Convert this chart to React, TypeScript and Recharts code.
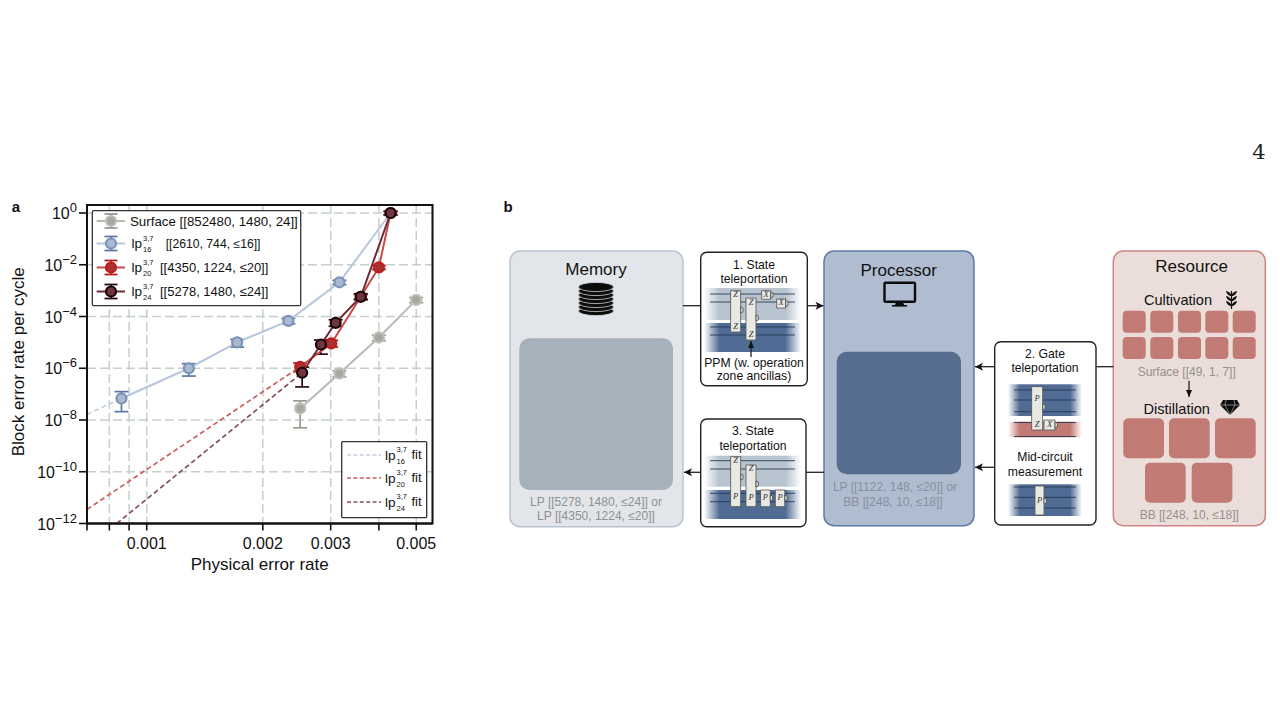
import React from "react";
import {
  CartesianGrid,
  ErrorBar,
  Scatter,
  ScatterChart,
  XAxis,
  YAxis,
} from "recharts";

const FONT = "'Liberation Sans', Arial, sans-serif";

// values
const surfaceX = [0.0025, 0.00316, 0.004, 0.005];
const surfaceY = [2.8e-8, 6.3e-7, 1.55e-5, 4.4e-4];
const surfaceLow = [5e-9, 4.6e-7, 1.15e-5, 3.4e-4];
const surfaceHigh = [5.5e-8, 8e-7, 1.9e-5, 5.4e-4];

const lp16X = [0.00086, 0.001286, 0.001716, 0.00233, 0.00316, 0.00429];
const lp16Y = [6.8e-8, 1e-6, 1e-5, 6.8e-5, 2.1e-3, 1];
const lp16Low = [2.1e-8, 5e-7, 6.6e-6, 5.2e-5, 1.7e-3, 0.85];
const lp16High = [1.25e-7, 1.5e-6, 1.3e-5, 8.4e-5, 2.5e-3, 1.15];

const lp20X = [0.0025, 0.00301, 0.00359, 0.004, 0.00429];
const lp20Y = [1.14e-6, 9.1e-6, 5.8e-4, 7.9e-3, 1];
const lp20Low = [7.3e-7, 6.6e-6, 4.8e-4, 6.6e-3, 0.85];
const lp20High = [1.6e-6, 1.2e-5, 7e-4, 9.4e-3, 1.15];

const lp24X = [0.00253, 0.00283, 0.00309, 0.00359, 0.00429];
const lp24Y = [6.7e-7, 8.3e-6, 5.7e-5, 5.8e-4, 1];
const lp24Low = [1.9e-7, 3.5e-6, 4.2e-5, 4.4e-4, 0.85];
const lp24High = [1.1e-6, 1.23e-5, 7.5e-5, 7.6e-4, 1.15];

const lp16FitX = [0.0007, 0.00086];
const lp16FitY = [1.65e-8, 6.8e-8];
const lp20FitX = [0.0007, 0.0025];
const lp20FitY = [3.5e-12, 1.14e-6];
const lp24FitX = [0.000836, 0.00253];
const lp24FitY = [1e-12, 6.7e-7];

const xTicks = [0.0007, 0.0008, 0.0009, 0.001, 0.002, 0.003, 0.004, 0.005];
const xLabels = [0.001, 0.002, 0.003, 0.005];
const yTicks = [1, 1e-2, 1e-4, 1e-6, 1e-8, 1e-10, 1e-12];

const points = (xs: number[], ys: number[], lows: number[], highs: number[]) =>
  xs.map((x, i) => ({ x, y: ys[i], err: [ys[i] - lows[i], highs[i] - ys[i]] }));

const fitPoints = (xs: number[], ys: number[]) =>
  xs.map((x, i) => ({ x, y: ys[i] }));

const surfaceColors = { line: "#b9b9b2", fill: "#a8a8a2", ring: "#bfbfb8", err: "#9b9b90" };
const lp16Colors = { line: "#b7c6da", fill: "#a9b9cf", ring: "#7a93b8", err: "#5b77a3" };
const lp20Colors = { line: "#c9494a", fill: "#a83232", ring: "#c01c1c", err: "#b51b1b" };
const lp24Colors = { line: "#6d2a36", fill: "#70363f", ring: "#1a0508", err: "#2a0a10" };

const fit16 = "#c3cfe0";
const fit20 = "#c95f5f";
const fit24 = "#84505c";

const marker = (fill: string, ring: string) => (props: any) =>
  <circle cx={props.cx} cy={props.cy} r={5} fill={fill} stroke={ring} strokeWidth={2.2} />;

const noMarker = () => <g />;

const XTick = (props: any) => {
  const v = props.payload.value;
  if (!xLabels.includes(v)) return <g />;
  return (
    <text x={props.x} y={props.y + 16} textAnchor="middle" fontSize={16} fontFamily={FONT} fill="#111">
      {String(v)}
    </text>
  );
};

const YTick = (props: any) => {
  const exp = Math.round(Math.log10(props.payload.value));
  const label = exp === 0 ? "0" : "\u2212" + Math.abs(exp);
  return (
    <text x={props.x} y={props.y + 6} textAnchor="end" fontSize={16} fontFamily={FONT} fill="#111">
      10
      <tspan dy={-7} fontSize={13}>{label}</tspan>
    </text>
  );
};

const T = ({ x, y, size = 12.2, color = "#111", anchor = "middle", children, ...rest }: any) => (
  <text x={x} y={y + size * 0.08} fontSize={size} fill={color} textAnchor={anchor} dominantBaseline="middle" fontFamily={FONT} {...rest}>
    {children}
  </text>
);

const LpName = ({ x, y, sub, size = 13.5 }: any) => (
  <g>
    <T x={x} y={y} size={size} anchor="start">lp</T>
    <T x={x + 11.5} y={y - 5.5} size={7.5} anchor="start">3,7</T>
    <T x={x + 11.5} y={y + 6} size={7.5} anchor="start">{sub}</T>
  </g>
);

const legendRows = [
  { y: 221, colors: surfaceColors, text: "Surface [[852480, 1480, 24]]", sub: "", tx: 130, ts: 13.3 },
  { y: 243.5, colors: lp16Colors, text: "[[2610, 744, \u226416]]", sub: "16", tx: 165.7, ts: 12.2 },
  { y: 267.5, colors: lp20Colors, text: "[[4350, 1224, \u226420]]", sub: "20", tx: 160, ts: 13 },
  { y: 291.5, colors: lp24Colors, text: "[[5278, 1480, \u226424]]", sub: "24", tx: 160, ts: 13 },
];

const fitRows = [
  { y: 455, color: fit16, sub: "16" },
  { y: 478, color: fit20, sub: "20" },
  { y: 502, color: fit24, sub: "24" },
];

const Arrow = ({ x1, y1, x2, y2, head = true }: any) => (
  <g>
    <line x1={x1} y1={y1} x2={x2} y2={y2} stroke="#222" strokeWidth={1.3} />
    {head && (
      <polygon
        points={
          x2 > x1
            ? `${x2},${y2} ${x2 - 8},${y2 - 4} ${x2 - 6},${y2} ${x2 - 8},${y2 + 4}`
            : x2 < x1
            ? `${x2},${y2} ${x2 + 8},${y2 - 4} ${x2 + 6},${y2} ${x2 + 8},${y2 + 4}`
            : y2 > y1
            ? `${x2},${y2} ${x2 - 3},${y2 - 7} ${x2 + 3},${y2 - 7}`
            : `${x2},${y2} ${x2 - 3},${y2 + 7} ${x2 + 3},${y2 + 7}`
        }
        fill="#111"
      />
    )}
  </g>
);

const Band = ({ x0, x1, y0, y1, id, lines = [] }: any) => (
  <g>
    <rect x={x0} y={y0} width={x1 - x0} height={y1 - y0} fill={`url(#${id})`} />
    {lines.map((ly: number) => (
      <line key={ly} x1={x0 + 6} x2={x1 - 6} y1={ly} y2={ly} stroke="#23344f" strokeWidth={1} opacity={0.85} />
    ))}
  </g>
);

const Gate = ({ x, y, w, h, labels = [], meterY }: any) => (
  <g>
    <rect x={x} y={y} width={w} height={h} fill="#e9e9e4" stroke="#555" strokeWidth={0.8} />
    {labels.map((l: any, i: number) => (
      <text key={i} x={x + w / 2} y={l.y} fontSize={8.5} textAnchor="middle" dominantBaseline="middle" fontFamily="'Liberation Serif', serif" fontStyle="italic" fill="#333">
        {l.t}
      </text>
    ))}
    {meterY !== undefined && (
      <path d={`M${x + w} ${meterY - 3} a2.6 3 0 0 1 0 6 z`} fill="#ddd" stroke="#444" strokeWidth={0.8} />
    )}
  </g>
);

const smallCols = [1122.7, 1150.3, 1178, 1205.3, 1232.7];
const smallRows = [310.7, 337];
const largeCells = [
  [1123.3, 418.3],
  [1169, 418.3],
  [1215, 418.3],
  [1145, 462.7],
  [1191.7, 462.7],
];

const Overlay = () => (
  <svg width={1280} height={720} style={{ position: "absolute", left: 0, top: 0, pointerEvents: "none" }}>
    <defs>
      {[
        ["lightBand", "#b7c3cf"],
        ["darkBand", "#506c95"],
        ["redBand", "#c27a74"],
      ].map(([id, c]) => (
        <linearGradient key={id} id={id} x1="0" x2="1" y1="0" y2="0">
          <stop offset="0" stopColor={c} stopOpacity={0} />
          <stop offset="0.16" stopColor={c} />
          <stop offset="0.84" stopColor={c} />
          <stop offset="1" stopColor={c} stopOpacity={0} />
        </linearGradient>
      ))}
    </defs>

    <text x={1259} y={159} fontSize={21} textAnchor="middle" fontFamily="'DejaVu Serif', 'Liberation Serif', serif" fill="#222">4</text>
    <T x={16} y={207} size={15} anchor="middle" fontWeight="bold">a</T>
    <T x={508} y={207} size={15} anchor="middle" fontWeight="bold">b</T>

    {/* panel a frame and legends */}
    <rect x={87} y={205} width={345.5} height={318.5} fill="none" stroke="#111" strokeWidth={2} />

    <rect x={92.3} y={210.7} width={208.4} height={95} rx={1.5} fill="#fff" stroke="#333" strokeWidth={1.3} />
    {legendRows.map((r) => (
      <g key={r.y}>
        <line x1={96.7} x2={125} y1={r.y} y2={r.y} stroke={r.colors.line} strokeWidth={2} />
        <line x1={111} x2={111} y1={r.y - 7} y2={r.y + 7} stroke={r.colors.err} strokeWidth={1.6} />
        <line x1={104.5} x2={117.5} y1={r.y - 7} y2={r.y - 7} stroke={r.colors.err} strokeWidth={1.8} />
        <line x1={104.5} x2={117.5} y1={r.y + 7} y2={r.y + 7} stroke={r.colors.err} strokeWidth={1.8} />
        <circle cx={111} cy={r.y} r={5} fill={r.colors.fill} stroke={r.colors.ring} strokeWidth={2.2} />
        {r.sub && <LpName x={131.5} y={r.y} sub={r.sub} />}
        <T x={r.tx} y={r.y} anchor="start" size={r.ts}>{r.text}</T>
      </g>
    ))}

    <rect x={341.7} y={441.7} width={85} height={76} rx={1} fill="#fff" stroke="#333" strokeWidth={1.3} />
    {fitRows.map((r) => (
      <g key={r.y}>
        <line x1={347} x2={381} y1={r.y} y2={r.y} stroke={r.color} strokeWidth={1.6} strokeDasharray="4 2.4" />
        <LpName x={385} y={r.y} sub={r.sub} />
        <T x={411.5} y={r.y} anchor="start" size={13}>fit</T>
      </g>
    ))}

    {/* Memory */}
    <rect x={510} y={251} width={173} height={275.7} rx={10} fill="#e2e6ea" stroke="#b9c5d1" strokeWidth={1.5} />
    <T x={596} y={269} size={17}>Memory</T>
    {[311, 307, 303, 299, 295, 291, 287].map((cy) => (
      <ellipse key={cy} cx={596} cy={cy} rx={17.5} ry={4.6} fill="#0c0c0c" stroke="#e2e6ea" strokeWidth={0.7} />
    ))}
    <rect x={519.3} y={338.3} width={153.7} height={151.7} rx={10} fill="#a6b1bc" />
    <T x={596} y={501.5} size={12} color="#8e9092">LP [[5278, 1480, ≤24]] or</T>
    <T x={596} y={516} size={12} color="#8e9092">LP [[4350, 1224, ≤20]]</T>

    {/* Step 1 */}
    <rect x={700.7} y={252.3} width={106.6} height={133.4} rx={6} fill="#fff" stroke="#222" strokeWidth={1.4} />
    <T x={754} y={264.5}>1. State</T>
    <T x={754} y={279}>teleportation</T>
    <Band x0={704} x1={801} y0={288} y1={320} id="lightBand" lines={[294, 302]} />
    <Band x0={704} x1={801} y0={323} y1={352} id="darkBand" lines={[327, 335]} />
    <Gate x={730.7} y={290.7} w={10} h={41.3} meterY={310} labels={[{ t: "Z", y: 295.5 }, { t: "Z", y: 327.5 }]} />
    <Gate x={746} y={298} w={10} h={42} meterY={318} labels={[{ t: "Z", y: 303 }, { t: "Z", y: 335.5 }]} />
    <Gate x={761.7} y={290.7} w={9} h={8.5} meterY={295} labels={[{ t: "X", y: 295 }]} />
    <Gate x={776.7} y={299} w={9} h={9} meterY={303.5} labels={[{ t: "X", y: 303.5 }]} />
    <Arrow x1={751} y1={357} x2={751} y2={341} />
    <T x={754} y={363}>PPM (w. operation</T>
    <T x={754} y={375.5}>zone ancillas)</T>

    {/* Step 3 */}
    <rect x={700.7} y={419} width={105.3} height={107.7} rx={6} fill="#fff" stroke="#222" strokeWidth={1.4} />
    <T x={753} y={431}>3. State</T>
    <T x={753} y={445.7}>teleportation</T>
    <Band x0={704} x1={801} y0={455.7} y1={486.7} id="lightBand" lines={[460.7, 469]} />
    <Band x0={704} x1={801} y0={490} y1={519} id="darkBand" lines={[493.3, 501.7]} />
    <Gate x={730.7} y={456.7} w={10} h={50} meterY={477} labels={[{ t: "Z", y: 461 }, { t: "P", y: 497.5 }]} />
    <Gate x={746} y={465} w={10} h={41.7} meterY={484} labels={[{ t: "Z", y: 469.5 }, { t: "P", y: 498 }]} />
    <Gate x={760.7} y={490} w={9.5} h={16.7} meterY={498} labels={[{ t: "P", y: 498 }]} />
    <Gate x={775.3} y={490} w={9.5} h={16.7} meterY={498} labels={[{ t: "P", y: 498 }]} />

    {/* Processor */}
    <rect x={824} y={251} width={150} height={274.7} rx={10} fill="#b0bdd0" stroke="#5d7ba3" strokeWidth={1.5} />
    <T x={898.7} y={270} size={17}>Processor</T>
    <rect x={884.5} y={282.7} width={30.5} height={19} rx={1} fill="#b0bdd0" stroke="#0c0c0c" strokeWidth={2.4} />
    <polygon points="896,302 903,302 904,305 895,305" fill="#0c0c0c" />
    <rect x={892} y={305} width={15} height={1.6} fill="#0c0c0c" />
    <rect x={836.7} y={351.7} width={124.3} height={122.6} rx={10} fill="#566d8f" />
    <T x={895} y={487} size={12} color="#858f9f">LP [[1122, 148, ≤20]] or</T>
    <T x={893} y={501.7} size={12} color="#858f9f">BB [[248, 10, ≤18]]</T>

    {/* Step 2 */}
    <rect x={994.7} y={341.7} width={101.3} height={183.3} rx={6} fill="#fff" stroke="#222" strokeWidth={1.4} />
    <T x={1045} y={354}>2. Gate</T>
    <T x={1045} y={368}>teleportation</T>
    <Band x0={1008} x1={1082} y0={384.3} y1={416} id="darkBand" lines={[390, 400, 411.7]} />
    <Band x0={1008} x1={1082} y0={421.7} y1={437.3} id="redBand" lines={[422.5, 436.5]} />
    <Gate x={1031.7} y={386.7} w={11} h={43.3} meterY={407} labels={[{ t: "P", y: 399 }, { t: "Z", y: 425 }]} />
    <Gate x={1044} y={420} w={11} h={10} meterY={425} labels={[{ t: "X", y: 425 }]} />
    <T x={1045} y={457.3}>Mid-circuit</T>
    <T x={1045} y={471.7}>measurement</T>
    <Band x0={1008} x1={1082} y0={484.3} y1={516} id="darkBand" lines={[487, 497.3, 508]} />
    <Gate x={1035} y={486} w={9} h={29} meterY={501} labels={[{ t: "P", y: 501 }]} />

    {/* Resource */}
    <rect x={1113.3} y={251} width={152} height={274.7} rx={10} fill="#ebdeda" stroke="#cf8580" strokeWidth={1.5} />
    <T x={1191.7} y={266} size={17}>Resource</T>
    <T x={1178} y={300} size={14.6}>Cultivation</T>
    <g stroke="#111" strokeWidth={0.9} fill="#111">
      <line x1={1231.5} y1={309} x2={1231.5} y2={291} strokeWidth={1.2} />
      {[291, 296, 301].map((ly) => (
        <g key={ly}>
          <path d={`M1231.5 ${ly + 5} q-1.5 -4 -5 -4.5 q0.5 3.5 5 4.5`} />
          <path d={`M1231.5 ${ly + 5} q1.5 -4 5 -4.5 q-0.5 3.5 -5 4.5`} />
        </g>
      ))}
    </g>
    {smallRows.map((y) =>
      smallCols.map((x) => (
        <rect key={`${x}-${y}`} x={x} y={y} width={23} height={22} rx={4} fill="#c27a74" />
      ))
    )}
    <T x={1186.7} y={372} size={12} color="#95908e">Surface [[49, 1, 7]]</T>
    <Arrow x1={1189} y1={380.7} x2={1189} y2={397} />
    <T x={1176.7} y={408.5} size={14.6}>Distillation</T>
    <polygon points="1223,400 1237,400 1240,405 1230,415 1220,405" fill="#0c0c0c" />
    <path d="M1220 405 H1240 M1226 400 L1225 405 L1230 415 L1235 405 L1234 400" fill="none" stroke="#ebdeda" strokeWidth={0.5} />
    {largeCells.map(([x, y]) => (
      <rect key={`${x}-${y}`} x={x} y={y} width={40.7} height={40} rx={5} fill="#c27a74" />
    ))}
    <T x={1189.3} y={515} size={12} color="#95908e">BB [[248, 10, ≤18]]</T>

    {/* connectors */}
    <Arrow x1={683} y1={305.7} x2={700.7} y2={305.7} head={false} />
    <Arrow x1={807.3} y1={305.7} x2={823.5} y2={305.7} />
    <Arrow x1={700.7} y1={472.3} x2={684} y2={472.3} />
    <Arrow x1={806} y1={472.3} x2={824} y2={472.3} head={false} />
    <Arrow x1={994.7} y1={366.7} x2={975} y2={366.7} />
    <Arrow x1={994.7} y1={467.3} x2={975} y2={467.3} />
    <Arrow x1={1096} y1={366.7} x2={1113.3} y2={366.7} head={false} />
  </svg>
);

const series = [
  { name: "surface", data: points(surfaceX, surfaceY, surfaceLow, surfaceHigh), colors: surfaceColors },
  { name: "lp16", data: points(lp16X, lp16Y, lp16Low, lp16High), colors: lp16Colors },
  { name: "lp20", data: points(lp20X, lp20Y, lp20Low, lp20High), colors: lp20Colors },
  { name: "lp24", data: points(lp24X, lp24Y, lp24Low, lp24High), colors: lp24Colors },
];

const fits = [
  { name: "fit16", data: fitPoints(lp16FitX, lp16FitY), color: fit16 },
  { name: "fit20", data: fitPoints(lp20FitX, lp20FitY), color: fit20 },
  { name: "fit24", data: fitPoints(lp24FitX, lp24FitY), color: fit24 },
];

export default function App() {
  return (
    <div style={{ position: "absolute", left: 0, top: 0, width: 1280, height: 720, background: "#fff", overflow: "hidden" }}>
      <div style={{ position: "absolute", left: 0, top: 0 }}>
        <ScatterChart width={450} height={590} margin={{ top: 205, right: 17.5, bottom: 16.5, left: 0 }}>
          <CartesianGrid stroke="#c4d0cb" strokeWidth={1.5} strokeDasharray="9 4" />
          <XAxis
            type="number"
            dataKey="x"
            scale="log"
            domain={[0.0007, 0.00551]}
            ticks={xTicks}
            interval={0}
            allowDataOverflow
            height={50}
            tickSize={7}
            tick={<XTick />}
            tickLine={{ stroke: "#111", strokeWidth: 1.6 }}
            axisLine={{ stroke: "#111", strokeWidth: 2 }}
            label={{ value: "Physical error rate", position: "insideBottom", offset: 4, fontSize: 17, fontFamily: FONT, fill: "#111" }}
          />
          <YAxis
            type="number"
            dataKey="y"
            scale="log"
            domain={[1e-12, 2.04]}
            ticks={yTicks}
            interval={0}
            allowDataOverflow
            width={87}
            tickSize={8}
            tickMargin={2}
            tick={<YTick />}
            tickLine={{ stroke: "#111", strokeWidth: 1.6 }}
            axisLine={{ stroke: "#111", strokeWidth: 2 }}
            label={{ value: "Block error rate per cycle", angle: -90, position: "insideLeft", fontSize: 17, fontFamily: FONT, fill: "#111", dx: 13, dy: 92 }}
          />
          {fits.map((f) => (
            <Scatter
              key={f.name}
              data={f.data}
              line={{ stroke: f.color, strokeWidth: 1.7, strokeDasharray: "5 3" }}
              shape={noMarker}
              isAnimationActive={false}
            />
          ))}
          {series.map((s) => (
            <Scatter
              key={s.name}
              data={s.data}
              line={{ stroke: s.colors.line, strokeWidth: 2 }}
              shape={marker(s.colors.fill, s.colors.ring)}
              isAnimationActive={false}
            >
              <ErrorBar dataKey="err" direction="y" width={7} stroke={s.colors.err} strokeWidth={1.7} isAnimationActive={false} />
            </Scatter>
          ))}
        </ScatterChart>
      </div>
      <Overlay />
    </div>
  );
}
